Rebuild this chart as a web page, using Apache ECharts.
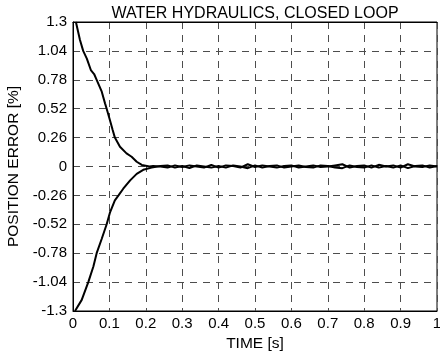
<!DOCTYPE html>
<html>
<head>
<meta charset="utf-8">
<script src="https://cdn.jsdelivr.net/npm/echarts@6/dist/echarts.min.js"></script>
<style>
  html, body { margin: 0; padding: 0; background: #fff; }
  #chart { width: 440px; height: 356px; }
</style>
</head>
<body>
<div id="chart"></div>
<script>
// start of the two responses, [time s, error %]
const upperStart = [
    [0.008, 1.3], [0.019, 1.14], [0.028, 1.04], [0.038, 0.97], [0.049, 0.868],
    [0.058, 0.832], [0.065, 0.78], [0.079, 0.673], [0.088, 0.568], [0.0925, 0.52],
    [0.1, 0.434], [0.109, 0.328], [0.115, 0.26], [0.129, 0.178], [0.147, 0.118],
    [0.161, 0.088], [0.175, 0.043], [0.189, 0.014], [0.21, 0.0]
]
const lowerStart = [
    [0.0055, -1.3], [0.024, -1.2], [0.042, -1.04], [0.056, -0.9], [0.065, -0.78],
    [0.079, -0.65], [0.0925, -0.52], [0.102, -0.41], [0.115, -0.305], [0.125, -0.26],
    [0.138, -0.2], [0.157, -0.125], [0.175, -0.066], [0.193, -0.03], [0.216, -0.01]
]

// settled part, small wiggle around zero
const tailTime = [
    0.22, 0.24, 0.26, 0.28, 0.30, 0.32, 0.34, 0.36, 0.38, 0.40,
    0.42, 0.44, 0.46, 0.48, 0.50, 0.52, 0.54, 0.56, 0.58, 0.60,
    0.62, 0.64, 0.66, 0.68, 0.70, 0.72, 0.74, 0.76, 0.78, 0.80,
    0.82, 0.84, 0.86, 0.88, 0.90, 0.92, 0.94, 0.96, 0.98, 1.00
]
const upperTail = [
    0.005, 0.0, -0.01, 0.01, -0.005, 0.01, 0.0, -0.01, 0.015, -0.01,
    0.01, 0.005, -0.01, 0.02, -0.005, 0.01, 0.0, -0.01, 0.005, 0.01,
    -0.01, 0.0, 0.01, -0.005, 0.0, 0.01, 0.02, -0.01, 0.005, 0.01,
    -0.01, 0.015, 0.0, 0.01, -0.01, 0.02, 0.0, -0.005, 0.01, 0.0
]
const lowerTail = [
    -0.01, 0.005, 0.01, -0.01, 0.005, -0.015, 0.01, 0.0, -0.01, 0.005,
    -0.01, 0.01, 0.0, -0.015, 0.01, -0.01, 0.005, 0.01, -0.01, 0.0,
    0.01, -0.005, -0.01, 0.01, 0.005, -0.01, -0.015, 0.01, -0.005, -0.01,
    0.01, -0.01, 0.005, -0.01, 0.01, -0.015, 0.005, 0.01, -0.01, 0.005
]

const xTicks = { min: 0, max: 1, interval: 0.1 }
const yTicks = { min: -1.3, max: 1.3, interval: 0.26 }

const titleText = "WATER HYDRAULICS, CLOSED LOOP"
const xName = "TIME [s]"
const yName = "POSITION ERROR [%]"

const withTail = (start, tail) => {
    const last = start[start.length - 1][0]
    const rest = []
    tailTime.forEach((t, i) => {
        if (t > last) rest.push([t, tail[i]])
    })
    return start.concat(rest)
}
const upperData = withTail(upperStart, upperTail)
const lowerData = withTail(lowerStart, lowerTail)

const font = "'Liberation Sans', Arial, sans-serif"
const fmt = (v) => String(+v.toFixed(2))

const chart = echarts.init(document.getElementById("chart"))

const gridDash = {
    show: true,
    lineStyle: { color: "#4d4d4d", width: 1, type: [7, 6] },
}
const blackLine = { show: true, onZero: false, lineStyle: { color: "#000", width: 1 } }

const option = {
    animation: false,
    grid: {
        left: 73,
        right: 3,
        top: 22,
        bottom: 45,
        containLabel: false,
        outerBoundsMode: "none",
        show: true,
        borderColor: "#000",
        borderWidth: 1,
        backgroundColor: "transparent",
    },
    xAxis: [
        {
            type: "value",
            min: xTicks.min,
            max: xTicks.max,
            interval: xTicks.interval,
            name: xName,
            nameLocation: "middle",
            nameGap: 23,
            nameTextStyle: { color: "#000", fontSize: 15.5, fontFamily: font },
            axisLine: blackLine,
            axisTick: { show: false },
            axisLabel: { color: "#000", fontSize: 15, fontFamily: font, margin: 5, formatter: fmt },
            splitLine: gridDash,
        },
        {
            type: "value",
            position: "top",
            min: xTicks.min,
            max: xTicks.max,
            name: titleText,
            nameLocation: "middle",
            nameGap: 0,
            nameTextStyle: { color: "#000", fontSize: 16, fontFamily: font },
            axisLine: blackLine,
            axisTick: { show: false },
            axisLabel: { show: false },
            splitLine: { show: false },
        },
    ],
    yAxis: {
        type: "value",
        min: yTicks.min,
        max: yTicks.max,
        interval: yTicks.interval,
        name: yName,
        nameLocation: "middle",
        nameGap: 40,
        nameTextStyle: { color: "#000", fontSize: 15.5, fontFamily: font },
        axisLine: blackLine,
        axisTick: { show: false },
        axisLabel: { color: "#000", fontSize: 15, fontFamily: font, margin: 6, formatter: fmt },
        splitLine: gridDash,
    },
    series: [
        {
            type: "line",
            data: upperData,
            showSymbol: false,
            lineStyle: { color: "#000", width: 2 },
        },
        {
            type: "line",
            data: lowerData,
            showSymbol: false,
            lineStyle: { color: "#000", width: 2 },
        },
    ],
}

chart.setOption(option)
</script>
</body>
</html>
